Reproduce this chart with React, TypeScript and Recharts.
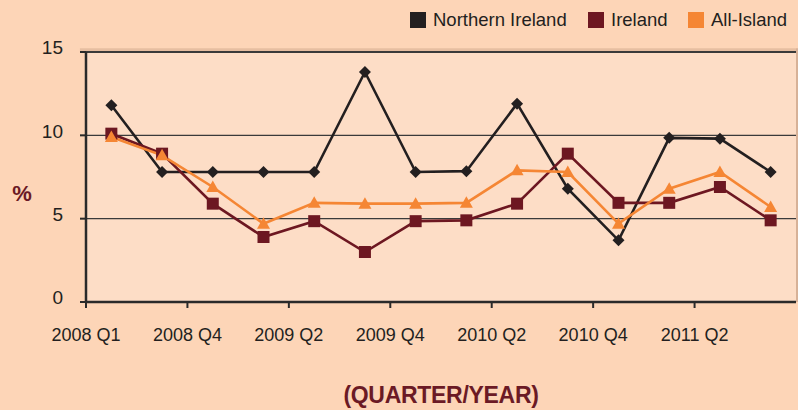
import React from 'react';
import { LineChart, Line, XAxis, YAxis, CartesianGrid, ReferenceLine, ReferenceArea, Label } from 'recharts';

const tickLabels = ['2008 Q1', '2008 Q4', '2009 Q2', '2009 Q4', '2010 Q2', '2010 Q4', '2011 Q2'];
const xTicks = [0, 2, 4, 6, 8, 10, 12];
const yTicks = [0, 5, 10, 15];

const northernIreland = [11.8, 7.8, 7.8, 7.8, 7.8, 13.8, 7.8, 7.85, 11.9, 6.8, 3.7, 9.85, 9.8, 7.8];
const ireland = [10.1, 8.9, 5.9, 3.9, 4.85, 3.0, 4.85, 4.9, 5.9, 8.9, 5.95, 5.95, 6.9, 4.9];
const allIsland = [9.9, 8.8, 6.9, 4.7, 5.95, 5.9, 5.9, 5.95, 7.9, 7.8, 4.7, 6.8, 7.8, 5.7];

const seriesNames = ['Northern Ireland', 'Ireland', 'All-Island'];
const seriesColors = ['#231F20', '#6D1721', '#F58634'];

const data = northernIreland.map((v, i) => ({
  x: i + 0.5,
  ni: v,
  ie: ireland[i],
  ai: allIsland[i],
}));

const FONT = '"Liberation Sans", Arial, Helvetica, sans-serif';
const TEXT = '#231F20';

const Diamond = (props: any) => {
  const { cx, cy, index } = props;
  if (cx == null || cy == null) return null;
  return <path key={`d${index}`} d={`M${cx},${cy - 6} L${cx + 6},${cy} L${cx},${cy + 6} L${cx - 6},${cy} Z`} fill={seriesColors[0]} />;
};
const Square = (props: any) => {
  const { cx, cy, index } = props;
  if (cx == null || cy == null) return null;
  return <rect key={`s${index}`} x={cx - 6} y={cy - 6} width={12} height={12} fill={seriesColors[1]} />;
};
const Triangle = (props: any) => {
  const { cx, cy, index } = props;
  if (cx == null || cy == null) return null;
  return <path key={`t${index}`} d={`M${cx},${cy - 6.5} L${cx + 6.5},${cy + 5} L${cx - 6.5},${cy + 5} Z`} fill={seriesColors[2]} />;
};

const YTick = (props: any) => {
  const { x, y, payload } = props;
  return (
    <text x={x} y={y - 4.5} dy="0.355em" textAnchor="end" fill={TEXT} fontSize={19} fontFamily={FONT}>
      {payload.value}
    </text>
  );
};

const legendPos = [410, 588, 688];

export default function App() {
  return (
    <div style={{ position: 'absolute', left: 0, top: 0, width: 798, height: 410, background: '#FDD5B7', fontFamily: FONT }}>
      <LineChart width={798} height={410} data={data} margin={{ top: 52, right: 2, bottom: 0, left: 0 }}>
        <CartesianGrid vertical={false} stroke="#3a3a3a" strokeWidth={1.2} fill="#FDDDC6" fillOpacity={1} />
        <ReferenceArea y1={15} y2={15.22} x1={-0.12} x2={14} fill="#E6BEA1" fillOpacity={1} stroke="none" ifOverflow="visible" />
        <ReferenceArea x1={14} x2={14.045} y1={0} y2={15.22} fill="#D7B197" fillOpacity={1} stroke="none" ifOverflow="visible" />
        <ReferenceLine y={15} stroke="#3a3a3a" strokeWidth={2} />
        <XAxis
          type="number"
          dataKey="x"
          domain={[0, 14]}
          ticks={xTicks}
          interval={0}
          allowDataOverflow
          tickFormatter={(v: number) => tickLabels[v / 2]}
          axisLine={{ stroke: '#2a2a2a', strokeWidth: 2.5 }}
          tickLine={{ stroke: '#2a2a2a', strokeWidth: 2 }}
          tickSize={6}
          tickMargin={20}
          height={108}
          tick={{ fill: TEXT, fontSize: 18, fontFamily: FONT }}
        >
          <Label
            value="(QUARTER/YEAR)"
            position="insideBottom"
            offset={7}
            fill="#6B1A25"
            fontSize={23}
            fontWeight="bold"
            fontFamily={FONT}
            letterSpacing={-0.3}
          />
        </XAxis>
        <YAxis
          type="number"
          domain={[0, 15]}
          ticks={yTicks}
          interval={0}
          width={86}
          axisLine={{ stroke: '#2a2a2a', strokeWidth: 2.5 }}
          tickLine={{ stroke: '#2a2a2a', strokeWidth: 2 }}
          tickSize={6}
          tickMargin={17}
          tick={<YTick />}
        >
          <Label
            content={() => (
              <text x={22} y={201} textAnchor="middle" fill="#6B1A25" fontSize={22} fontWeight="bold" fontFamily={FONT}>
                %
              </text>
            )}
          />
        </YAxis>
        <Line type="linear" dataKey="ni" name={seriesNames[0]} stroke={seriesColors[0]} strokeWidth={2.6} dot={<Diamond />} activeDot={false} isAnimationActive={false} />
        <Line type="linear" dataKey="ie" name={seriesNames[1]} stroke={seriesColors[1]} strokeWidth={2.6} dot={<Square />} activeDot={false} isAnimationActive={false} />
        <Line type="linear" dataKey="ai" name={seriesNames[2]} stroke={seriesColors[2]} strokeWidth={2.6} dot={<Triangle />} activeDot={false} isAnimationActive={false} />
      </LineChart>
      {seriesNames.map((name, i) => (
        <div key={name} style={{ position: 'absolute', left: legendPos[i], top: 10, height: 20, display: 'flex', alignItems: 'center', whiteSpace: 'nowrap' }}>
          <span style={{ display: 'inline-block', width: 16, height: 16, background: seriesColors[i], marginRight: 7 }} />
          <span style={{ fontSize: 18.5, color: TEXT, fontFamily: FONT, lineHeight: '20px' }}>{name}</span>
        </div>
      ))}
    </div>
  );
}
